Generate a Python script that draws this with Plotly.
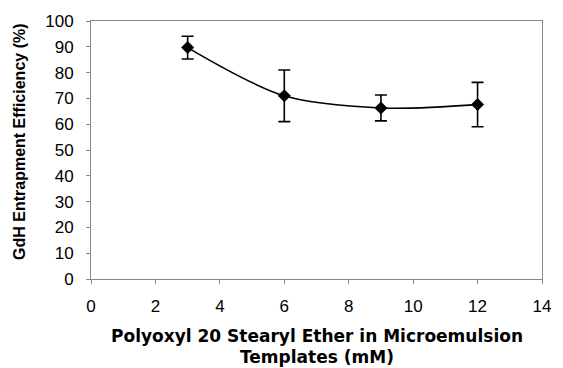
import plotly.graph_objects as go

# Polyoxyl 20 stearyl ether concentration (mM)
conc_mM = [3, 6, 9, 12]
# GdH entrapment efficiency (%) and standard deviation
efficiency = [89.7, 71.0, 66.3, 67.6]
efficiency_sd = [4.4, 10.0, 5.0, 8.6]

x_ticks = list(range(0, 15, 2))
y_ticks = list(range(0, 101, 10))

x_title_lines = ["Polyoxyl 20 Stearyl Ether in Microemulsion", "Templates (mM)"]
y_title = "GdH Entrapment Efficiency (%)"

PLOT_LEFT, PLOT_RIGHT = 91, 551
PLOT_TOP, PLOT_BOTTOM = 20, 279
PLOT_W = PLOT_RIGHT - PLOT_LEFT
PLOT_H = PLOT_BOTTOM - PLOT_TOP


def paper_x(px):
    return (px - PLOT_LEFT) / PLOT_W


def paper_y(px):
    return (PLOT_BOTTOM - px) / PLOT_H


fig = go.Figure(
    go.Scatter(
        x=conc_mM,
        y=efficiency,
        mode="lines+markers",
        line=dict(color="black", width=1.6, shape="spline", smoothing=0.9),
        marker=dict(symbol="diamond", size=10, color="black"),
        error_y=dict(type="data", array=efficiency_sd, visible=True,
                     color="black", thickness=1.6, width=6),
        showlegend=False,
    )
)

axis_font = dict(family="Liberation Sans, Arial, sans-serif", size=17, color="black")
x_title_font = dict(family="DejaVu Sans, sans-serif", size=17, color="black")
y_title_font = dict(family="Liberation Sans, Arial, sans-serif", size=16, color="black")

fig.update_xaxes(
    range=[0, 14], tickvals=x_ticks, ticks="outside", ticklen=4, tickcolor="#888",
    showline=True, linecolor="#888", linewidth=1, mirror=True,
    showgrid=False, zeroline=False, tickfont=axis_font, ticklabelstandoff=8,
)
fig.update_yaxes(
    range=[0, 100], tickvals=y_ticks, ticks="outside", ticklen=4, tickcolor="#888",
    showline=True, linecolor="#888", linewidth=1, mirror=True,
    showgrid=False, zeroline=False, tickfont=axis_font, ticklabelstandoff=9,
)

for text, ypx in zip(x_title_lines, [336, 357]):
    fig.add_annotation(
        text=f"<b>{text}</b>", xref="paper", yref="paper", x=paper_x(321), y=paper_y(ypx),
        xanchor="center", yanchor="middle", showarrow=False, font=x_title_font,
    )

fig.add_annotation(
    text=f"<b>{y_title}</b>", xref="paper", yref="paper", x=paper_x(18), y=paper_y(141),
    xanchor="center", yanchor="middle", showarrow=False, textangle=-90, font=y_title_font,
)

fig.update_layout(
    width=563, height=368,
    margin=dict(l=PLOT_LEFT, r=563 - PLOT_RIGHT, t=PLOT_TOP, b=368 - PLOT_BOTTOM),
    paper_bgcolor="white", plot_bgcolor="white",
)

fig.write_html("out.html")
